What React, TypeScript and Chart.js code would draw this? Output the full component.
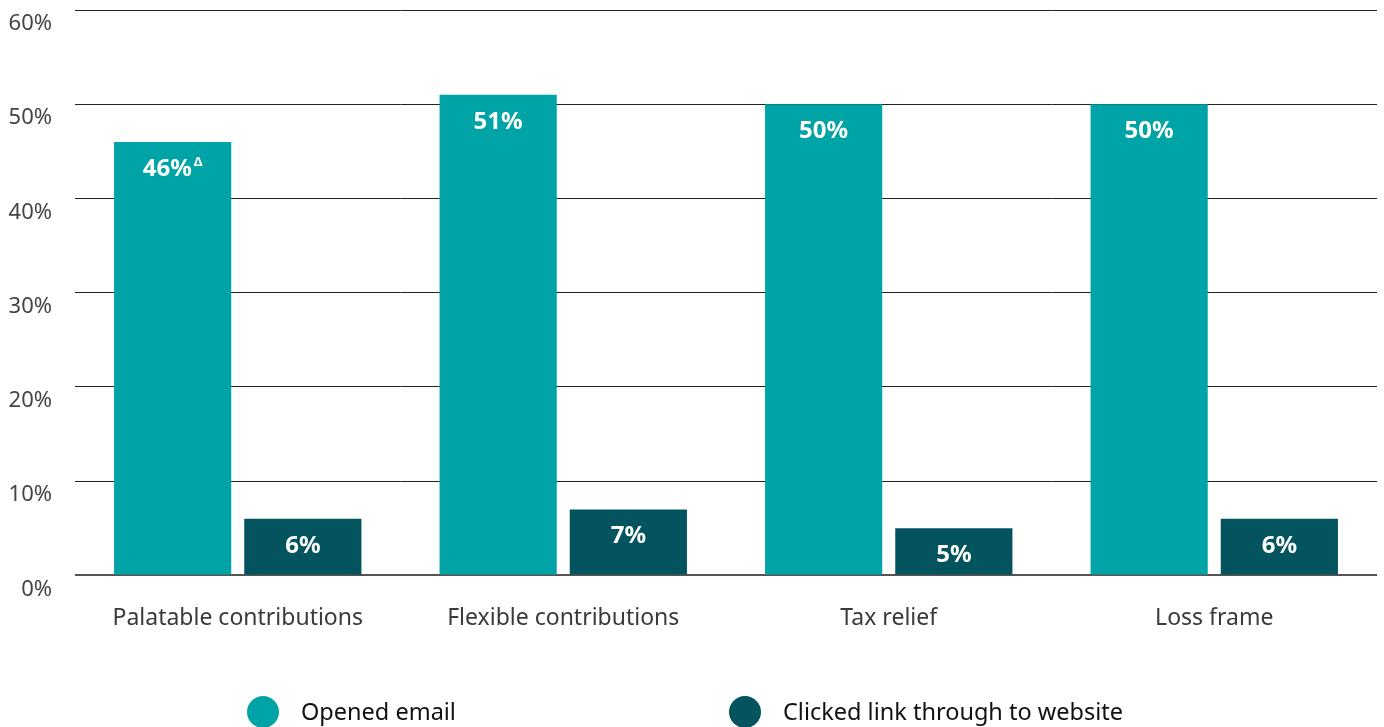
import React, { useEffect, useRef } from 'react';
import { Chart, registerables } from 'chart.js';

Chart.register(...registerables);

const categories = ['Palatable contributions', 'Flexible contributions', 'Tax relief', 'Loss frame'];
const openedEmail = [46, 51, 50, 50];
const clickedLink = [6, 7, 5, 6];
const openedMarks = ['Δ', '', '', ''];
const clickedMarks = ['', '', '', ''];
const seriesNames = ['Opened email', 'Clicked link through to website'];
const seriesColors = ['#00A4A6', '#03545E'];
const yMin = 0;
const yMax = 60;
const yStep = 10;

const FONT = '"Noto Sans", "Open Sans", sans-serif';

const barLabelPlugin = {
  id: 'barLabels',
  afterDatasetsDraw(chart: any) {
    const ctx = chart.ctx;
    const marks = [openedMarks, clickedMarks];
    chart.data.datasets.forEach((ds: any, di: number) => {
      const meta = chart.getDatasetMeta(di);
      meta.data.forEach((el: any, i: number) => {
        const v = ds.data[i];
        const main = v + '%';
        const sup = marks[di][i] || '';
        ctx.save();
        ctx.fillStyle = '#ffffff';
        ctx.textBaseline = 'middle';
        ctx.font = `bold 24px ${FONT}`;
        const w1 = ctx.measureText(main).width;
        ctx.font = `bold 13px ${FONT}`;
        const w2 = sup ? ctx.measureText(sup).width + 2 : 0;
        const total = w1 + w2;
        const x0 = el.x - total / 2;
        const y = el.y + 27;
        ctx.textAlign = 'left';
        ctx.font = `bold 24px ${FONT}`;
        ctx.fillText(main, x0, y);
        if (sup) {
          ctx.font = `bold 13px ${FONT}`;
          ctx.fillText(sup, x0 + w1 + 2, y - 7);
        }
        ctx.restore();
      });
    });
  },
};

const legendPlugin = {
  id: 'customLegend',
  afterDraw(chart: any) {
    const ctx = chart.ctx;
    const items = [
      { cx: 263, text: seriesNames[0], color: seriesColors[0] },
      { cx: 745, text: seriesNames[1], color: seriesColors[1] },
    ];
    const cy = 712;
    ctx.save();
    items.forEach((it) => {
      ctx.beginPath();
      ctx.fillStyle = it.color;
      ctx.ellipse(it.cx, cy, 16, 16, 0, 0, Math.PI * 2);
      ctx.fill();
      ctx.fillStyle = '#111111';
      ctx.font = `23.5px ${FONT}`;
      ctx.textAlign = 'left';
      ctx.textBaseline = 'middle';
      ctx.fillText(it.text, it.cx + 38, cy + 1);
    });
    ctx.restore();
  },
};

export default function App() {
  const canvasRef = useRef<HTMLCanvasElement | null>(null);

  useEffect(() => {
    document.body.style.margin = '0';
    document.body.style.overflow = 'hidden';
    const canvas = canvasRef.current;
    if (!canvas) return;
    const chart = new Chart(canvas, {
      type: 'bar',
      data: {
        labels: categories,
        datasets: [
          {
            label: seriesNames[0],
            data: openedEmail,
            backgroundColor: seriesColors[0],
            categoryPercentage: 0.8,
            barPercentage: 0.9,
          },
          {
            label: seriesNames[1],
            data: clickedLink,
            backgroundColor: seriesColors[1],
            categoryPercentage: 0.8,
            barPercentage: 0.9,
          },
        ],
      },
      options: {
        responsive: false,
        animation: false,
        layout: { padding: { top: 10, right: 7, bottom: 66, left: 0 } },
        plugins: {
          legend: { display: false },
          tooltip: { enabled: false },
        },
        scales: {
          x: {
            grid: { display: false, drawTicks: false },
            border: { display: false },
            ticks: {
              color: '#3a3a3a',
              font: { family: FONT, size: 23 },
              padding: 29,
              maxRotation: 0,
            },
          },
          y: {
            min: yMin,
            max: yMax,
            afterFit(scale: any) {
              scale.width = 75;
              scale.paddingTop = 0;
              scale.paddingBottom = 0;
            },
            border: { display: false },
            grid: {
              drawTicks: false,
              color: (c: any) => (c.tick && c.tick.value === 0 ? '#555555' : '#222222'),
              lineWidth: (c: any) => (c.tick && c.tick.value === 0 ? 2 : 1),
            },
            ticks: {
              stepSize: yStep,
              color: '#444444',
              font: { family: FONT, size: 22 },
              padding: 23,
              labelOffset: 14,
              callback: (v: any) => v + '%',
            },
          },
        },
      },
      plugins: [barLabelPlugin, legendPlugin],
    });
    return () => chart.destroy();
  }, []);

  return (
    <div style={{ width: 1384, height: 727, position: 'relative' }}>
      <canvas ref={canvasRef} width={1384} height={727} />
    </div>
  );
}
